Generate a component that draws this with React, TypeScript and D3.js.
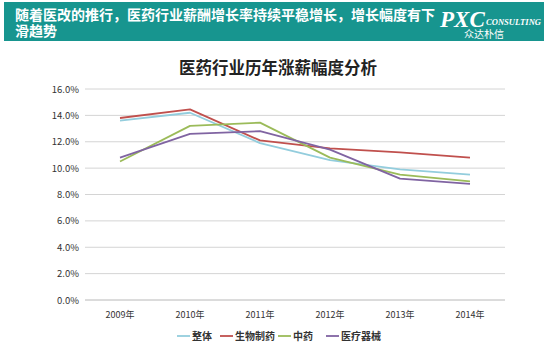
import React from "react";
import * as d3 from "d3";

const years = ["2009年", "2010年", "2011年", "2012年", "2013年", "2014年"];
const seriesNames = ["整体", "生物制药", "中药", "医疗器械"];
const seriesColors = ["#93cddd", "#c0504d", "#9bbb59", "#8064a2"];
const overall = [13.6, 14.2, 11.9, 10.6, 9.9, 9.5];
const biopharma = [13.8, 14.45, 12.1, 11.5, 11.2, 10.8];
const tcm = [10.5, 13.2, 13.45, 10.8, 9.5, 9.0];
const devices = [10.8, 12.6, 12.8, 11.4, 9.2, 8.8];
const yTicks = [0, 2, 4, 6, 8, 10, 12, 14, 16];
const headerLines = ["随着医改的推行，医药行业薪酬增长率持续平稳增长，增长幅度有下", "滑趋势"];
const chartTitle = "医药行业历年涨薪幅度分析";

const allSeries = [overall, biopharma, tcm, devices];

export default function App() {
  const W = 550, H = 356;
  const x = d3.scaleBand().domain(years).range([85, 505]);
  const y = d3.scaleLinear().domain([0, 16]).range([300, 89]);
  const line = d3
    .line<number>()
    .x((_, i) => (x(years[i]) as number) + x.bandwidth() / 2)
    .y((d) => y(d));
  const font = "'Noto Sans CJK SC', 'Noto Sans', sans-serif";
  const legendX = [177, 220, 278, 326];

  return (
    <svg
      width={W}
      height={H}
      style={{ position: "absolute", left: 0, top: 0, background: "#fff" }}
      fontFamily={font}
    >
      <rect x={4} y={2} width={540} height={39} fill="#17958f" />
      {headerLines.map((t, i) => (
        <text key={i} x={15} y={20 + i * 16} fill="#fff" fontSize={14} fontWeight="bold">
          {t}
        </text>
      ))}
      <text x={440} y={27} fill="#fff" fontSize={23} fontWeight="bold" fontStyle="italic" fontFamily="'Liberation Serif', serif">
        PXC
      </text>
      <text x={486} y={25} fill="#fff" fontSize={8.5} fontWeight="bold" fontStyle="italic" fontFamily="'Liberation Serif', serif" textLength={55} lengthAdjust="spacingAndGlyphs">
        CONSULTING
      </text>
      <text x={484} y={38} fill="#fff" fontSize={10} textAnchor="middle">
        众达朴信
      </text>

      <text x={278} y={74} textAnchor="middle" fontSize={16.5} fontWeight="bold" fill="#222">
        {chartTitle}
      </text>

      {yTicks.map((t) => (
        <g key={t}>
          <line x1={85} x2={505} y1={y(t)} y2={y(t)} stroke={t === 0 ? "#b8b8b8" : "#d4d4d4"} strokeWidth={1} />
          <text x={79} y={y(t) + 3.5} textAnchor="end" fontSize={9.5} fill="#333">
            {t.toFixed(1)}%
          </text>
        </g>
      ))}

      {years.map((yr) => (
        <text key={yr} x={(x(yr) as number) + x.bandwidth() / 2} y={318} textAnchor="middle" fontSize={9} fill="#333">
          {yr}
        </text>
      ))}

      {allSeries.map((s, i) => (
        <path key={i} d={line(s) || ""} fill="none" stroke={seriesColors[i]} strokeWidth={1.8} strokeLinejoin="round" />
      ))}

      {seriesNames.map((n, i) => (
        <g key={n}>
          <line x1={legendX[i]} x2={legendX[i] + 13} y1={336} y2={336} stroke={seriesColors[i]} strokeWidth={1.8} />
          <text x={legendX[i] + 15} y={340} fontSize={10} fontWeight="bold" fill="#333">
            {n}
          </text>
        </g>
      ))}
    </svg>
  );
}
